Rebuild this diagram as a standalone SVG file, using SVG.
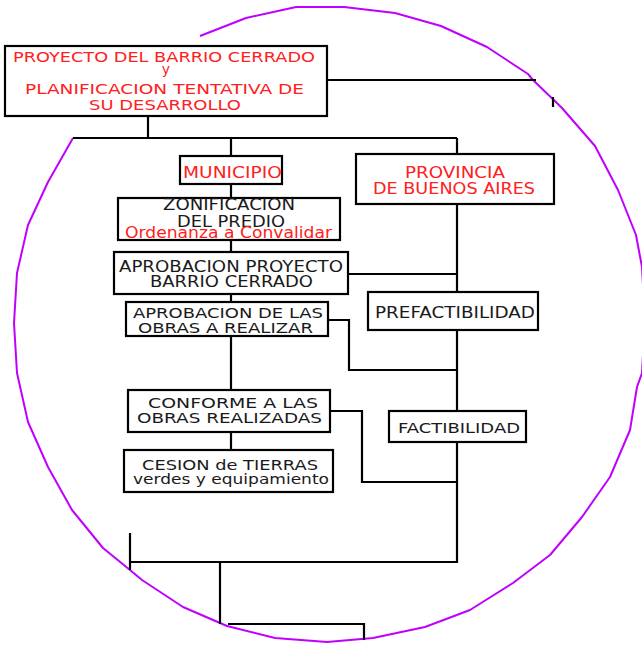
<svg xmlns="http://www.w3.org/2000/svg" width="642" height="646" viewBox="0 0 642 646">
<style>
.box{fill:#fff;stroke:#000;stroke-width:2.2}
.ln{fill:none;stroke:#000;stroke-width:2.2}
.arc{fill:none;stroke:#bf00ff;stroke-width:2;stroke-linejoin:round}
text{font-family:"DejaVu Sans","Liberation Sans",sans-serif;font-size:15px;fill:#1a1a1a;text-anchor:middle}
.r{fill:#ff2020}
.s{font-size:14px}
</style>
<rect width="642" height="646" fill="#fff"/>
<polyline class="arc" points="73,138 48,182 28,225 17,273 14,323 17,373 28,422 48,467 72,510 103,548 130,570 142,580 183,607 227,626 275,638 327,642 373,638 425,627 470,610 513,583 550,555 582,517 610,477 630,430 637,387 642,373 645,320 642,267 636,235 618,190 595,146 562,108 533,80 528,74 487,47 441,26 395,13 344,7 296,7 246,18 200,36"/>
<g id="connectors">
<polyline class="ln" points="148,116 148,138"/>
<polyline class="ln" points="73,138 457,138"/>
<polyline class="ln" points="231,138 231,156"/>
<polyline class="ln" points="457,138 457,154"/>
<polyline class="ln" points="327,80 536,80"/>
<polyline class="ln" points="553,97 553,107"/>
<polyline class="ln" points="231,184 231,198"/>
<polyline class="ln" points="231,240 231,252"/>
<polyline class="ln" points="231,294 231,302"/>
<polyline class="ln" points="231,336 231,390"/>
<polyline class="ln" points="231,432 231,450"/>
<polyline class="ln" points="457,204 457,292"/>
<polyline class="ln" points="348,274 457,274"/>
<polyline class="ln" points="328,320 349,320 349,370 457,370"/>
<polyline class="ln" points="457,330 457,411"/>
<polyline class="ln" points="330,411 362,411 362,482 457,482"/>
<polyline class="ln" points="457,442 457,562 130,562"/>
<polyline class="ln" points="130,533 130,570"/>
<polyline class="ln" points="220,562 220,624"/>
<polyline class="ln" points="228,624 364,624 364,640"/>
</g>
<g id="proyecto">
<rect class="box" x="5" y="46" width="322" height="70"/>
<text class="r s" x="164" y="62" textLength="302" lengthAdjust="spacingAndGlyphs">PROYECTO DEL BARRIO CERRADO</text>
<text class="r s" x="166" y="73.5">y</text>
<text class="r s" x="164.5" y="94" textLength="279" lengthAdjust="spacingAndGlyphs">PLANIFICACION TENTATIVA DE</text>
<text class="r s" x="165" y="110" textLength="152" lengthAdjust="spacingAndGlyphs">SU DESARROLLO</text>
</g>
<g id="municipio">
<rect class="box" x="180" y="156" width="102" height="28"/>
<text class="r" x="232.5" y="178" textLength="99" lengthAdjust="spacingAndGlyphs">MUNICIPIO</text>
</g>
<g id="zonificacion">
<rect class="box" x="118" y="198" width="222" height="42"/>
<text x="229" y="210" textLength="132" lengthAdjust="spacingAndGlyphs">ZONIFICACION</text>
<text x="231" y="226.5" textLength="108" lengthAdjust="spacingAndGlyphs">DEL PREDIO</text>
<text class="r" x="228.5" y="237.5" textLength="207" lengthAdjust="spacingAndGlyphs">Ordenanza a Convalidar</text>
</g>
<g id="aprobacion-proyecto">
<rect class="box" x="114" y="252" width="234" height="42"/>
<text x="231" y="272" textLength="224" lengthAdjust="spacingAndGlyphs">APROBACION PROYECTO</text>
<text x="231.5" y="287" textLength="163" lengthAdjust="spacingAndGlyphs">BARRIO CERRADO</text>
</g>
<g id="aprobacion-obras">
<rect class="box" x="126" y="302" width="202" height="34"/>
<text class="s" x="228" y="318" textLength="190" lengthAdjust="spacingAndGlyphs">APROBACION DE LAS</text>
<text class="s" x="225.5" y="333" textLength="175" lengthAdjust="spacingAndGlyphs">OBRAS A REALIZAR</text>
</g>
<g id="provincia">
<rect class="box" x="356" y="154" width="198" height="50"/>
<text class="r" x="455" y="178" textLength="100" lengthAdjust="spacingAndGlyphs">PROVINCIA</text>
<text class="r" x="454" y="194" textLength="162" lengthAdjust="spacingAndGlyphs">DE BUENOS AIRES</text>
</g>
<g id="prefactibilidad">
<rect class="box" x="368" y="292" width="170" height="38"/>
<text x="455" y="318" textLength="160" lengthAdjust="spacingAndGlyphs">PREFACTIBILIDAD</text>
</g>
<g id="conforme">
<rect class="box" x="128" y="390" width="202" height="42"/>
<text class="s" x="233" y="408" textLength="170" lengthAdjust="spacingAndGlyphs">CONFORME A LAS</text>
<text class="s" x="229.5" y="423" textLength="185" lengthAdjust="spacingAndGlyphs">OBRAS REALIZADAS</text>
</g>
<g id="factibilidad">
<rect class="box" x="389" y="411" width="137" height="31"/>
<text class="s" x="459" y="433" textLength="122" lengthAdjust="spacingAndGlyphs">FACTIBILIDAD</text>
</g>
<g id="cesion">
<rect class="box" x="124" y="450" width="209" height="42"/>
<text class="s" x="230" y="470" textLength="176" lengthAdjust="spacingAndGlyphs">CESION de TIERRAS</text>
<text class="s" x="231" y="484" textLength="196" lengthAdjust="spacingAndGlyphs">verdes y equipamiento</text>
</g>
</svg>
